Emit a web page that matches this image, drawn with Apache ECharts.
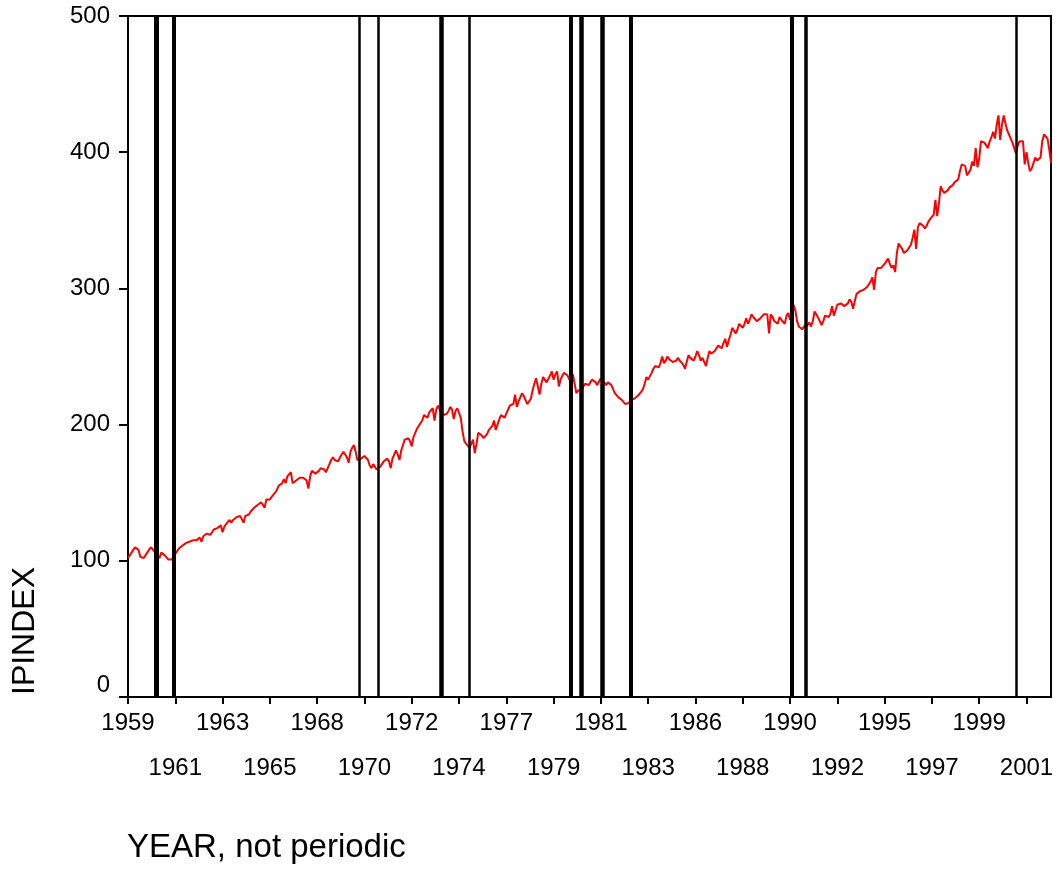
<!DOCTYPE html>
<html>
<head>
<meta charset="utf-8">
<script src="https://cdn.jsdelivr.net/npm/echarts@6/dist/echarts.min.js"></script>
<style>
html,body{margin:0;padding:0;background:#fff;}
#chart{width:1059px;height:869px;}
</style>
</head>
<body>
<div id="chart"></div>
<script>
// ---- data (monthly industrial production index) ----
const startYear = 1959;
const endYear = 2002;
const ip1959_1968 = [
  102,104,106,108,110,111,108,103,103,102,103,106,
  105,110,109,107,106,104,102,106,105,104,103,101,
  100,101,103,105,107,109,108,111,112,113,114,114,
  113,115,116,115,116,117,114,118,119,120,121,119,
  121,123,124,124,125,126,121,125,127,128,130,128,
  130,131,132,131,133,133,128,133,134,134,136,137,
  139,140,141,141,143,144,139,145,146,145,147,148,
  150,152,155,154,157,160,157,162,163,165,157,158,
  159,160,161,160,161,160,159,153,162,166,165,164,
  164,166,168,169,167,165,166,171,174,176,174,173
];
const ip1969_1978 = [
  173,176,178,180,178,176,172,180,183,185,180,174,
  173,175,176,177,176,174,170,168,171,170,167,168,
  169,171,173,172,175,173,168,175,178,181,178,174,
  181,185,189,188,190,188,184,191,194,197,199,200,
  203,207,208,205,209,210,212,203,211,214,211,209,
  207,206,208,210,213,211,204,210,212,212,205,195,
  188,186,185,183,186,189,179,186,194,193,192,190,
  190,193,196,197,199,203,196,200,204,207,206,205,
  208,211,214,215,215,222,213,217,220,223,221,218,
  215,214,219,225,230,234,228,222,230,235,233,231
];
const ip1979_1988 = [
  231,236,239,233,237,239,228,233,236,238,237,236,
  233,235,237,238,223,225,224,225,228,230,231,229,
  231,233,234,231,229,232,234,233,231,229,231,230,
  229,230,223,222,220,219,218,217,215,214,216,218,
  218,219,220,221,222,224,226,230,235,233,232,238,
  241,243,244,242,245,250,245,247,250,248,247,246,
  246,247,249,247,246,244,241,246,251,249,248,247,
  250,254,251,247,249,248,243,249,254,252,253,254,
  255,258,257,256,260,263,257,262,266,271,269,267,
  270,274,273,271,274,278,274,277,281,279,280,276
];
const ip1989_2002 = [
  276,278,279,281,280,281,267,281,279,276,275,274,
  279,277,276,274,280,282,277,283,288,284,276,272,
  271,270,272,272,273,275,272,276,283,281,280,276,
  273,276,280,279,279,281,287,280,284,288,288,289,
  288,287,288,289,292,290,285,291,296,297,298,298,
  299,300,301,303,305,308,299,312,315,314,315,315,
  318,320,322,318,315,317,312,326,333,331,329,326,
  325,328,330,332,337,343,329,345,348,347,346,344,
  346,349,351,350,354,365,353,362,375,372,370,371,
  372,374,375,376,378,377,380,386,391,392,390,383,
  385,387,393,390,403,389,395,408,407,407,405,403,
  408,411,415,410,420,427,409,420,427,421,416,413,
  410,407,403,399,405,408,408,408,391,400,392,386,
  388,392,396,394,393,396,408,413,412,410,402,392
];
// months marked by vertical reference lines
const eventMonths = ['1960-05','1961-03','1970-01','1970-12','1973-12','1975-04',
                     '1980-02','1980-08','1981-08','1982-12','1990-08','1991-04','2001-04'];
const yTicks = [0, 100, 200, 300, 400, 500];
const xTitle = 'YEAR, not periodic';
const yTitle = 'IPINDEX';

// ---- build ----
const months = [];
for (let y = startYear; y <= endYear; y++) {
  for (let m = 1; m <= 12; m++) months.push(y + '-' + (m < 10 ? '0' + m : '' + m));
}
const ipValues = [].concat(ip1959_1968, ip1969_1978, ip1979_1988, ip1989_2002);

// style: line width of each reference line (same order as eventMonths)
const eventWidths = [5, 4, 2.5, 2.5, 4.5, 2.5, 4, 4.5, 4.5, 4, 4, 3.5, 2.5];
const STEP = 27;
const FONT = '"Liberation Sans", Arial, sans-serif';

function yearOf(v) { return v.slice(0, 4); }

const labelBase = {
  color: '#000',
  fontFamily: FONT,
  fontSize: 24,
  lineHeight: 26,
  formatter: yearOf
};

const chart = echarts.init(document.getElementById('chart'), null, {renderer: 'canvas'});
chart.setOption({
  backgroundColor: '#ffffff',
  animation: false,
  grid: {
    left: 128, right: 8, top: 16, bottom: 172,
    show: true, borderColor: '#000', borderWidth: 2,
    outerBoundsMode: 'none'
  },
  xAxis: [
    {
      type: 'category',
      data: months,
      boundaryGap: false,
      position: 'bottom',
      axisLine: {show: true, lineStyle: {color: '#000', width: 2}},
      axisTick: {
        show: true, length: 7, lineStyle: {color: '#000', width: 2},
        interval: function (i) { return i % STEP === 0; }
      },
      splitLine: {show: false},
      axisLabel: Object.assign({}, labelBase, {
        margin: 13,
        interval: function (i) { return i % (2 * STEP) === 0; }
      })
    },
    {
      type: 'category',
      data: months,
      boundaryGap: false,
      position: 'bottom',
      axisLine: {show: false},
      axisTick: {show: false},
      splitLine: {show: false},
      axisLabel: Object.assign({}, labelBase, {
        margin: 58,
        interval: function (i) { return i % (2 * STEP) === STEP; }
      })
    }
  ],
  yAxis: {
    type: 'value',
    min: yTicks[0],
    max: yTicks[yTicks.length - 1],
    interval: yTicks[1] - yTicks[0],
    axisLine: {show: true, lineStyle: {color: '#000', width: 2}},
    axisTick: {show: true, length: 9, lineStyle: {color: '#000', width: 2}},
    splitLine: {show: false},
    axisLabel: {
      color: '#000',
      fontFamily: FONT,
      fontSize: 24,
      margin: 18,
      formatter: function (v) { return v === 0 ? '{z|0}' : String(v); },
      rich: {
        z: {fontFamily: FONT, fontSize: 24, color: '#000', padding: [0, 0, 24, 0]}
      }
    }
  },
  graphic: [
    {
      type: 'text', x: 25, y: 695, rotation: Math.PI / 2,
      style: {text: yTitle, font: '32px ' + FONT, fill: '#000', align: 'left', verticalAlign: 'middle'}
    },
    {
      type: 'text', x: 127, y: 848,
      style: {text: xTitle, font: '33px ' + FONT, fill: '#000', align: 'left', verticalAlign: 'middle'}
    }
  ],
  series: [
    {
      type: 'line',
      xAxisIndex: 0,
      data: ipValues,
      showSymbol: false,
      symbol: 'none',
      lineStyle: {color: '#ff0000', width: 2},
      z: 2,
      markLine: {
        silent: true,
        symbol: 'none',
        label: {show: false},
        lineStyle: {color: '#000', type: 'solid'},
        data: eventMonths.map(function (m, i) {
          return {xAxis: m, lineStyle: {color: '#000', width: eventWidths[i], type: 'solid'}};
        })
      }
    }
  ]
});
</script>
</body>
</html>
